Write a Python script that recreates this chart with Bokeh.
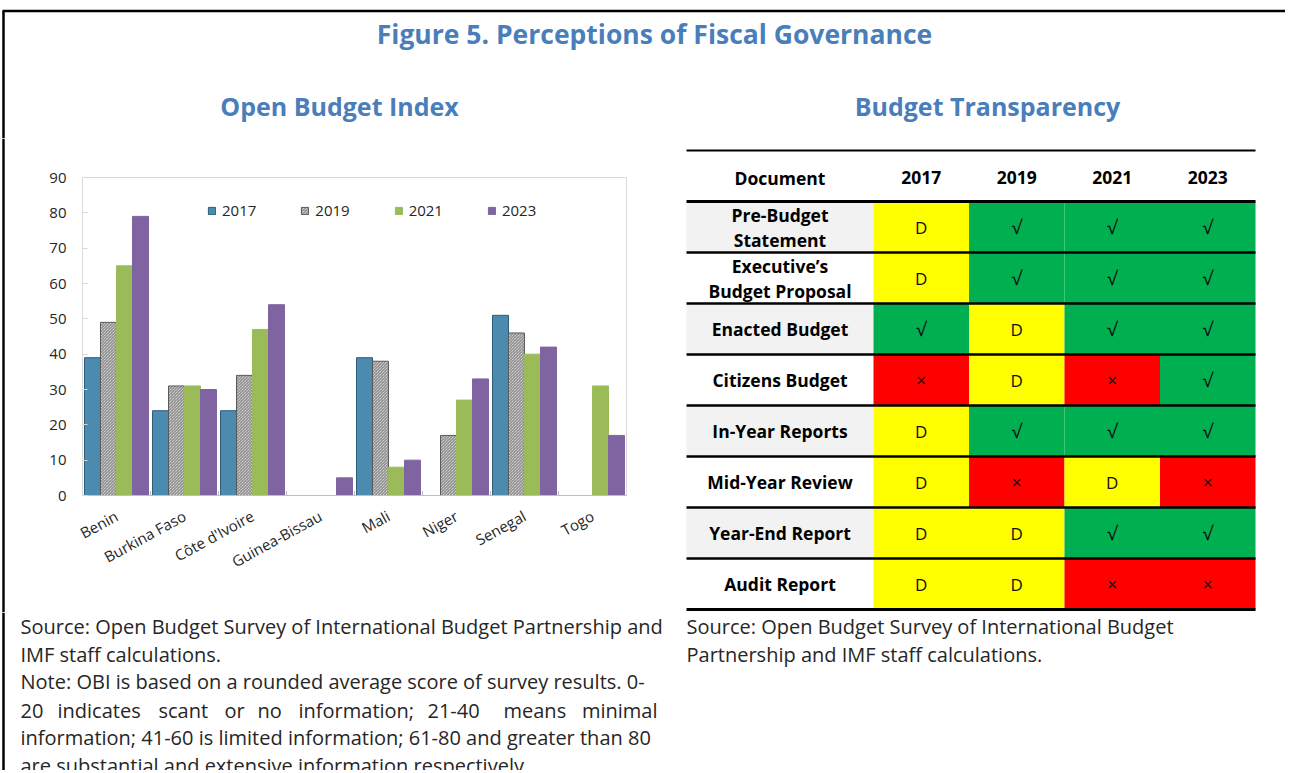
import numpy as np
from bokeh.plotting import figure
from bokeh.models import Range1d, FactorRange, ColumnDataSource, FixedTicker
from bokeh.transform import dodge
from bokeh.layouts import column, row
from bokeh.embed import file_html
from bokeh.resources import INLINE
from bokeh.core.properties import value

# ---------------- data ----------------
countries = ["Benin", "Burkina Faso", "Côte d'Ivoire", "Guinea-Bissau",
             "Mali", "Niger", "Senegal", "Togo"]
years = ["2017", "2019", "2021", "2023"]
nan = float("nan")
obi_2017 = [39, 24, 24, nan, 39, nan, 51, nan]
obi_2019 = [49, 31, 34, nan, 38, 17, 46, nan]
obi_2021 = [65, 31, 47, nan, 8, 27, 40, 31]
obi_2023 = [79, 30, 54, 5, 10, 33, 42, 17]
y_ticks = [0, 10, 20, 30, 40, 50, 60, 70, 80, 90]

documents = ["Pre-Budget\nStatement", "Executive’s\nBudget Proposal", "Enacted Budget",
             "Citizens Budget", "In-Year Reports", "Mid-Year Review",
             "Year-End Report", "Audit Report"]
status_2017 = ["D", "D", "√", "×", "D", "D", "D", "D"]
status_2019 = ["√", "√", "D", "D", "√", "×", "D", "D"]
status_2021 = ["√", "√", "√", "×", "√", "D", "√", "×"]
status_2023 = ["√", "√", "√", "√", "√", "×", "√", "×"]

# ---------------- styles ----------------
FONT = "Open Sans"
TITLE_BLUE = "#4A7EBB"
TXT = "#262626"
BAR_FILL = ["#4B8BB0", "#F0F0F0", "#9BBB59", "#8064A2"]
BAR_LINE = ["#2E5E7A", "#5A5A5A", "#9BBB59", "#8064A2"]
STATUS_COLOR = {"√": "#00B050", "D": "#FFFF00", "×": "#FF0000"}
STATUS_SIZE = {"√": "19px", "D": "17px", "×": "18px"}
NOTE_FS = "20px"

W = 1285
TOP_H = 138
MID_Y1 = 612
BOT_Y1 = 770
STRIP_W = 5


def blank(width, height, x0, x1, y0, y1):
    f = figure(width=width, height=height, x_range=Range1d(x0, x1), y_range=Range1d(y1, y0),
               output_backend="svg", toolbar_location=None, min_border=0,
               x_axis_type=None, y_axis_type=None)
    f.outline_line_color = None
    f.grid.visible = False
    return f


# ---------------- top title strip ----------------
top = blank(W, TOP_H, 0, W, 0, TOP_H)
top.segment(x0=[2, 3], y0=[10.5, 10.5], x1=[W, 3], y1=[10.5, TOP_H], line_color="black", line_width=2.5)
top.text(x=[654], y=[33], text=["Figure 5. Perceptions of Fiscal Governance"],
         text_font=value(FONT), text_font_style="bold", text_font_size="26.5px",
         text_color=TITLE_BLUE, text_align="center", text_baseline="middle")
top.text(x=[339, 987], y=[105, 105], text=["Open Budget Index", "Budget Transparency"],
         text_font=value(FONT), text_font_style="bold", text_font_size="25px",
         text_color=TITLE_BLUE, text_align="center", text_baseline="middle")

MID_H = MID_Y1 - TOP_H

# ---------------- left frame line for the middle band ----------------
strip = blank(STRIP_W, MID_H, 0, STRIP_W, TOP_H, MID_Y1)
strip.quad(left=[1.8], right=[4.2], top=[TOP_H], bottom=[MID_Y1], fill_color="black", line_color=None)

# ---------------- bar chart ----------------
src = ColumnDataSource(dict(country=countries,
                            y2017=np.array(obi_2017, dtype=float),
                            y2019=np.array(obi_2019, dtype=float),
                            y2021=np.array(obi_2021, dtype=float),
                            y2023=np.array(obi_2023, dtype=float)))
p = figure(x_range=FactorRange(*countries), y_range=Range1d(0, 90),
           width=680 - STRIP_W, height=MID_H, output_backend="svg", toolbar_location=None,
           min_border_left=82 - STRIP_W, min_border_right=54, min_border_top=39,
           min_border_bottom=MID_Y1 - 495)
p.outline_line_color = "#D9D9D9"
p.grid.visible = False

offsets = [-0.353, -0.118, 0.118, 0.353]
for i, yr in enumerate(years):
    kw = dict(x=dodge("country", offsets[i], range=p.x_range), top="y" + yr, width=0.235,
              source=src, fill_color=BAR_FILL[i], line_color=BAR_LINE[i], line_width=1,
              legend_label=yr)
    if yr == "2019":
        kw.update(hatch_pattern="left_diagonal_line", hatch_color="#5A5A5A",
                  hatch_scale=3, hatch_weight=0.8)
    p.vbar(**kw)

# small separators between category groups on the x axis
p.segment(x0=dodge("country", -0.5, range=p.x_range), x1=dodge("country", -0.5, range=p.x_range),
          y0=0, y1=1.3, source=ColumnDataSource(dict(country=countries[1:])),
          line_color="#BFBFBF", line_width=1)

p.yaxis.ticker = FixedTicker(ticks=y_ticks)
p.yaxis.axis_line_color = None
p.yaxis.major_tick_in = 5
p.yaxis.major_tick_out = 0
p.yaxis.major_tick_line_color = "#D9D9D9"
p.yaxis.minor_tick_line_color = None
p.yaxis.major_label_standoff = 16
p.yaxis.major_label_text_font = FONT
p.yaxis.major_label_text_font_size = "15px"
p.yaxis.major_label_text_color = TXT

p.xaxis.axis_line_color = "#BFBFBF"
p.xaxis.major_tick_line_color = None
p.xaxis.major_label_orientation = 0.5
p.xaxis.major_label_standoff = 13
p.xaxis.major_label_text_font = FONT
p.xaxis.major_label_text_font_size = "15px"
p.xaxis.major_label_text_color = TXT

lg = p.legend[0]
lg.orientation = "horizontal"
lg.location = (125, 275)
lg.margin = 0
lg.padding = 0
lg.spacing = 44
lg.glyph_width = 9
lg.glyph_height = 9
lg.label_standoff = 6
lg.border_line_color = None
lg.background_fill_alpha = 0
lg.label_text_font = FONT
lg.label_text_font_size = "15px"
lg.label_text_color = TXT

# ---------------- table ----------------
t = blank(W - 680, MID_H, 680, W, TOP_H, MID_Y1)
TX0, TX1 = 686, 1255
DOC_W = 187
COL_W = (TX1 - TX0 - DOC_W) / 4
HDR_Y = 177
ROW0 = 201
ROW_H = 51

col_centers = [TX0 + DOC_W + COL_W * (j + 0.5) for j in range(4)]

rows = list(range(len(documents)))
t.quad(left=[TX0] * len(rows), right=[TX0 + DOC_W] * len(rows),
       top=[ROW0 + ROW_H * i for i in rows], bottom=[ROW0 + ROW_H * (i + 1) for i in rows],
       fill_color=["#F2F2F2" if i % 2 == 0 else "white" for i in rows], line_color=None)

all_status = [status_2017, status_2019, status_2021, status_2023]
cells = {k: [] for k in ["l", "r", "t", "b", "c", "x", "y", "s"]}
for j, col in enumerate(all_status):
    for i, s in enumerate(col):
        cells["l"].append(TX0 + DOC_W + COL_W * j)
        cells["r"].append(TX0 + DOC_W + COL_W * (j + 1))
        cells["t"].append(ROW0 + ROW_H * i)
        cells["b"].append(ROW0 + ROW_H * (i + 1))
        cells["c"].append(STATUS_COLOR[s])
        cells["x"].append(col_centers[j])
        cells["y"].append(ROW0 + ROW_H * (i + 0.5))
        cells["s"].append(s)
t.quad(left="l", right="r", top="t", bottom="b", fill_color="c", line_color=None,
       source=ColumnDataSource(cells))
for sym, size in STATUS_SIZE.items():
    idx = [k for k, s in enumerate(cells["s"]) if s == sym]
    t.text(x=[cells["x"][k] for k in idx], y=[cells["y"][k] for k in idx],
           text=[sym] * len(idx), text_font_size=size, text_font=value(FONT),
           text_color="#111111", text_align="center", text_baseline="middle")

t.text(x=[TX0 + DOC_W / 2] + col_centers, y=[HDR_Y] * 5, text=["Document"] + years,
       text_font=value(FONT), text_font_style="bold", text_font_size="17.5px", text_color="black",
       text_align="center", text_baseline="middle")

lx, ly, lt = [], [], []
for i, d in enumerate(documents):
    parts = d.split("\n")
    yc = ROW0 + ROW_H * (i + 0.5)
    n = len(parts)
    for k, part in enumerate(parts):
        lx.append(TX0 + DOC_W / 2)
        ly.append(yc + (k - (n - 1) / 2) * 25)
        lt.append(part)
t.text(x=lx, y=ly, text=lt, text_font=value(FONT), text_font_style="bold",
       text_font_size="17.5px", text_color="black", text_align="center", text_baseline="middle")

hy = [150] + [ROW0 + ROW_H * i for i in range(len(documents) + 1)]
hw = [2] + [3] + [2.5] * (len(documents) - 1) + [3]
t.segment(x0=[TX0] * len(hy), x1=[TX1] * len(hy), y0=hy, y1=hy, line_color="black", line_width=hw)

# ---------------- bottom notes (full width) ----------------
bot = blank(W, BOT_Y1 - MID_Y1, 0, W, MID_Y1, BOT_Y1)
bot.segment(x0=[3], x1=[3], y0=[MID_Y1], y1=[BOT_Y1], line_color="black", line_width=2.5)
lines = [
    (626, "Source: Open Budget Survey of International Budget Partnership and"),
    (654, "IMF staff calculations."),
    (681, "Note: OBI is based on a rounded average score of survey results. 0-"),
    (737, "information; 41-60 is limited information; 61-80 and greater than 80"),
    (765, "are substantial and extensive information respectively."),
]
bot.text(x=[20] * len(lines), y=[l[0] for l in lines], text=[l[1] for l in lines],
         text_font=value(FONT), text_font_size=NOTE_FS, text_color=TXT,
         text_align="left", text_baseline="middle")
jwords = ["20", "indicates", "scant", "or", "no", "information;", "21-40", "means"]
jx = [20, 57, 158, 224, 257, 298, 427, 503]
bot.text(x=jx, y=[710] * len(jwords), text=jwords, text_font=value(FONT),
         text_font_size=NOTE_FS, text_color=TXT, text_align="left", text_baseline="middle")
bot.text(x=[657], y=[710], text=["minimal"], text_font=value(FONT),
         text_font_size=NOTE_FS, text_color=TXT, text_align="right", text_baseline="middle")
bot.text(x=[686, 686], y=[626, 654],
         text=["Source: Open Budget Survey of International Budget",
               "Partnership and IMF staff calculations."],
         text_font=value(FONT), text_font_size=NOTE_FS, text_color=TXT,
         text_align="left", text_baseline="middle")

mid = row(strip, column(p), column(t), spacing=0)

layout = column(top, mid, bot, spacing=0)

open("out.html", "w").write(file_html(layout, INLINE))
